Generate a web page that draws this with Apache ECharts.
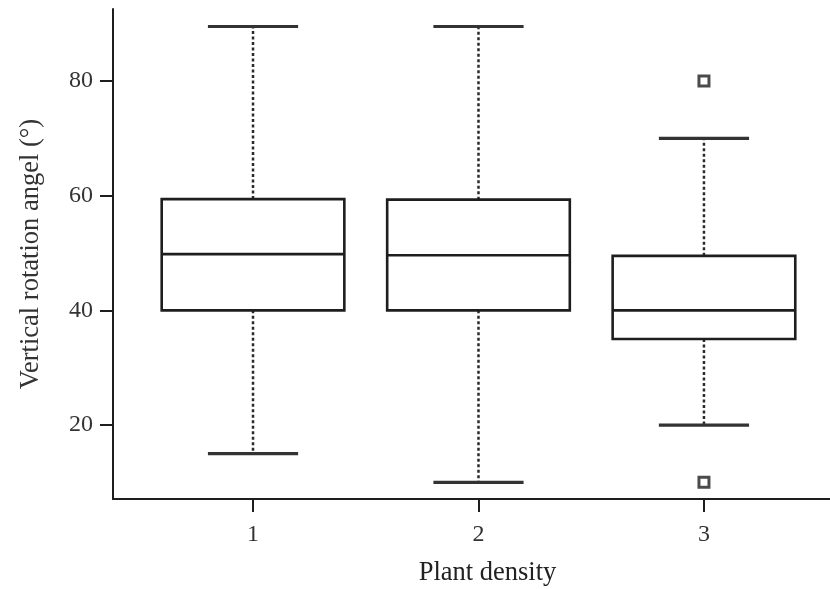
<!DOCTYPE html>
<html>
<head>
<meta charset="utf-8">
<script src="https://cdn.jsdelivr.net/npm/echarts@6/dist/echarts.min.js"></script>
<style>
  html, body { margin: 0; padding: 0; background: #fff; }
  #box-chart { width: 830px; height: 589px; }
</style>
</head>
<body>
<div id="box-chart"></div>
<script>
// plant density groups and box statistics
var densities = [1, 2, 3];
var whiskerLow = [15, 10, 20];
var quartile1 = [40, 40, 35];
var medians = [49.8, 49.6, 40];
var quartile3 = [59.4, 59.3, 49.5];
var whiskerHigh = [89.5, 89.5, 70];
var outlierGroup = [3, 3];
var outlierValue = [80, 10];
var yTicks = [20, 40, 60, 80];

var boxRows = densities.map(function (d, i) {
    return [d, whiskerLow[i], quartile1[i], medians[i], quartile3[i], whiskerHigh[i]];
});
var outlierRows = outlierGroup.map(function (g, i) { return [g, outlierValue[i]]; });

var ink = '#1e1e1e';
var serif = '"Liberation Serif", "DejaVu Serif", serif';

function renderBox(params, api) {
    var x = api.value(0);
    var lo = api.coord([x, api.value(1)]);
    var q1 = api.coord([x, api.value(2)]);
    var md = api.coord([x, api.value(3)]);
    var q3 = api.coord([x, api.value(4)]);
    var hi = api.coord([x, api.value(5)]);
    var boxHalf = api.size([0.405, 0])[0];
    var capHalf = api.size([0.2, 0])[0];
    var cx = lo[0];
    var dashed = { stroke: '#2a2a2a', lineWidth: 2.5, lineDash: [3, 2.5] };
    var solid = { stroke: ink, lineWidth: 2.6, fill: null };
    return {
        type: 'group',
        children: [
            { type: 'line', shape: { x1: cx, y1: q3[1], x2: cx, y2: hi[1] }, style: dashed },
            { type: 'line', shape: { x1: cx, y1: q1[1], x2: cx, y2: lo[1] }, style: dashed },
            { type: 'line', shape: { x1: cx - capHalf, y1: hi[1], x2: cx + capHalf, y2: hi[1] }, style: { stroke: '#333', lineWidth: 3.2 } },
            { type: 'line', shape: { x1: cx - capHalf, y1: lo[1], x2: cx + capHalf, y2: lo[1] }, style: { stroke: '#333', lineWidth: 3.2 } },
            { type: 'rect', shape: { x: cx - boxHalf, y: q3[1], width: boxHalf * 2, height: q1[1] - q3[1] }, style: { stroke: ink, lineWidth: 2.6, fill: '#fff' } },
            { type: 'line', shape: { x1: cx - boxHalf, y1: md[1], x2: cx + boxHalf, y2: md[1] }, style: solid }
        ]
    };
}

var chartDom = document.getElementById('box-chart');
var chart = echarts.init(chartDom);

var option = {
    animation: false,
    backgroundColor: '#fff',
    grid: { left: 113, right: 0, top: 9, bottom: 90, outerBoundsMode: 'none' },
    xAxis: {
        type: 'value',
        min: 0.379,
        max: 3.559,
        name: 'Plant density',
        nameLocation: 'middle',
        nameGap: 61,
        // title sits a little right of the visible axis centre in the original
        nameTextStyle: { fontFamily: serif, fontSize: 26.5, color: '#222', padding: [0, 0, 0, 32] },
        splitLine: { show: false },
        axisLine: { lineStyle: { color: ink, width: 2 } },
        axisTick: { show: true, length: 13, customValues: densities, lineStyle: { color: ink, width: 2 } },
        axisLabel: { customValues: densities, margin: 24, fontFamily: serif, fontSize: 24, color: '#333' }
    },
    yAxis: {
        type: 'value',
        min: 7.1,
        max: 92.55,
        name: 'Vertical rotation angel (°)',
        nameLocation: 'middle',
        nameGap: 68,
        nameTextStyle: { fontFamily: serif, fontSize: 26.5, color: '#333' },
        splitLine: { show: false },
        axisLine: { show: true, lineStyle: { color: ink, width: 2 } },
        axisTick: { show: true, length: 13, customValues: yTicks, lineStyle: { color: ink, width: 2 } },
        axisLabel: { customValues: yTicks, margin: 20, fontFamily: serif, fontSize: 24, color: '#333' }
    },
    series: [
        {
            type: 'custom',
            renderItem: renderBox,
            encode: { x: 0, y: [1, 2, 3, 4, 5] },
            data: boxRows,
            z: 2
        },
        {
            type: 'scatter',
            symbol: 'rect',
            symbolSize: 10,
            itemStyle: { color: '#fff', borderColor: ink, borderWidth: 3 },
            data: outlierRows,
            z: 3
        }
    ]
};

if (option && typeof option === 'object') {
    chart.setOption(option, true);
}
</script>
</body>
</html>
